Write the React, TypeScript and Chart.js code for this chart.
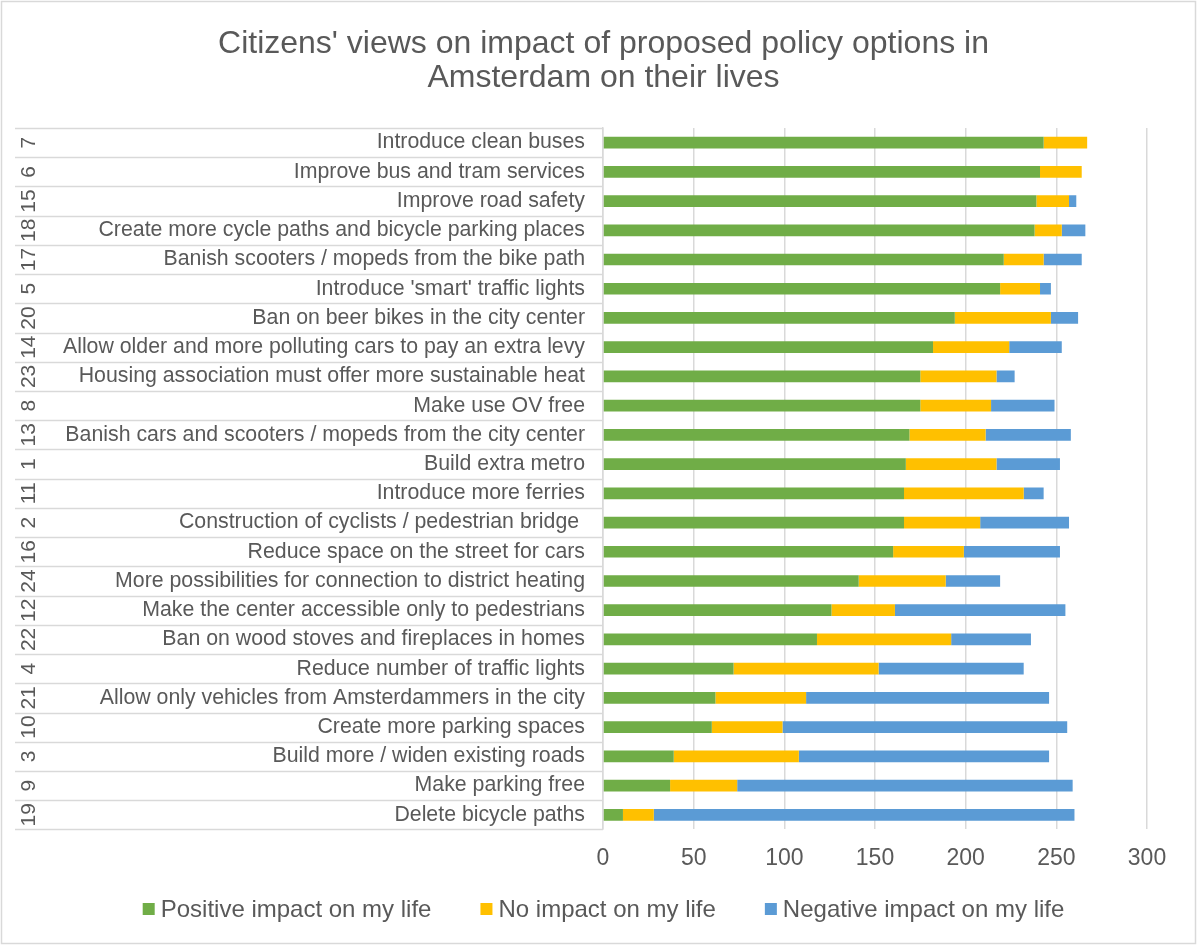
import React, { useEffect, useRef } from "react";
import { Chart, registerables } from "chart.js";

Chart.register(...registerables);

const FONT = "'Liberation Sans', Arial, Helvetica, sans-serif";
const TEXT_COLOR = "#595959";
const GRID_COLOR = "#d9d9d9";

const TITLE_LINES = [
  "Citizens' views on impact of proposed policy options in",
  "Amsterdam on their lives",
];

const CATEGORY_IDS = [
  "7", "6", "15", "18", "17", "5", "20", "14", "23", "8", "13", "1",
  "11", "2", "16", "24", "12", "22", "4", "21", "10", "3", "9", "19",
];

const CATEGORY_LABELS = [
  "Introduce clean buses",
  "Improve bus and tram services",
  "Improve road safety",
  "Create more cycle paths and bicycle parking places",
  "Banish scooters / mopeds from the bike path",
  "Introduce 'smart' traffic lights",
  "Ban on beer bikes in the city center",
  "Allow older and more polluting cars to pay an extra levy",
  "Housing association must offer more sustainable heat",
  "Make use OV free",
  "Banish cars and scooters / mopeds from the city center",
  "Build extra metro",
  "Introduce more ferries",
  "Construction of cyclists / pedestrian bridge ",
  "Reduce space on the street for cars",
  "More possibilities for connection to district heating",
  "Make the center accessible only to pedestrians",
  "Ban on wood stoves and fireplaces in homes",
  "Reduce number of traffic lights",
  "Allow only vehicles from Amsterdammers in the city",
  "Create more parking spaces",
  "Build more / widen existing roads",
  "Make parking free",
  "Delete bicycle paths",
];

const SERIES_NAMES = [
  "Positive impact on my life",
  "No impact on my life",
  "Negative impact on my life",
];

const POSITIVE = [243, 241, 239, 238, 221, 219, 194, 182, 175, 175, 169, 167, 166, 166, 160, 141, 126, 118, 72, 62, 60, 39, 37, 11];
const NO_IMPACT = [24, 23, 18, 15, 22, 22, 53, 42, 42, 39, 42, 50, 66, 42, 39, 48, 35, 74, 80, 50, 39, 69, 37, 17];
const NEGATIVE = [0, 0, 4, 13, 21, 6, 15, 29, 10, 35, 47, 35, 11, 49, 53, 30, 94, 44, 80, 134, 157, 138, 185, 232];

const SERIES_COLORS = ["#70ad47", "#ffc000", "#5b9bd5"];

const X_MIN = 0;
const X_MAX = 300;
const X_STEP = 50;

export default function App() {
  const ref = useRef<HTMLCanvasElement>(null);

  useEffect(() => {
    const canvas = ref.current;
    if (!canvas) return;

    const framePlugin = {
      id: "framePlugin",
      afterDraw(chart: any) {
        const ctx = chart.ctx as CanvasRenderingContext2D;
        const area = chart.chartArea;
        const n = CATEGORY_IDS.length;
        const step = (area.bottom - area.top) / n;

        ctx.save();
        // outer chart border
        ctx.strokeStyle = GRID_COLOR;
        ctx.lineWidth = 1.5;
        ctx.strokeRect(1.5, 1.5, chart.width - 3, chart.height - 3);

        // category separators
        ctx.strokeStyle = GRID_COLOR;
        ctx.lineWidth = 1.5;
        for (let i = 0; i <= n; i++) {
          const y = Math.round(area.top + i * step) + 0.5;
          ctx.beginPath();
          ctx.moveTo(15, y);
          ctx.lineTo(area.left, y);
          ctx.stroke();
        }

        // rotated outer-level labels (ids)
        ctx.fillStyle = TEXT_COLOR;
        ctx.font = `21px ${FONT}`;
        ctx.textAlign = "center";
        ctx.textBaseline = "middle";
        const yScale = chart.scales.y;
        CATEGORY_IDS.forEach((id, i) => {
          const yc = yScale.getPixelForValue(i);
          ctx.save();
          ctx.translate(29, yc);
          ctx.rotate(-Math.PI / 2);
          ctx.fillText(id, 0, 0);
          ctx.restore();
        });

        // legend
        ctx.font = `24px ${FONT}`;
        ctx.textAlign = "left";
        const box = 12;
        const gapBoxText = 6;
        const gapItems = 49;
        const items = chart.data.datasets.map((d: any) => ({
          label: d.label as string,
          color: d.backgroundColor as string,
          w: ctx.measureText(d.label).width,
        }));
        const total =
          items.reduce((s: number, it: any) => s + box + gapBoxText + it.w, 0) +
          gapItems * (items.length - 1);
        let x = 603.5 - total / 2;
        const yc = 909;
        items.forEach((it: any) => {
          ctx.fillStyle = it.color;
          ctx.fillRect(x, yc - box / 2, box, box);
          x += box + gapBoxText;
          ctx.fillStyle = TEXT_COLOR;
          ctx.fillText(it.label, x, yc + 1);
          x += it.w + gapItems;
        });
        ctx.restore();
      },
    };

    const seriesValues = [POSITIVE, NO_IMPACT, NEGATIVE];

    const chart = new Chart(canvas, {
      type: "bar",
      data: {
        labels: CATEGORY_LABELS,
        datasets: SERIES_NAMES.map((name, i) => ({
          label: name,
          data: seriesValues[i],
          backgroundColor: SERIES_COLORS[i],
          borderWidth: 0,
          barPercentage: 0.5,
          categoryPercentage: 0.8,
        })),
      },
      options: {
        indexAxis: "y",
        responsive: false,
        animation: false,
        devicePixelRatio: 1,
        layout: { padding: { left: 60, right: 50, top: 0, bottom: 58 } },
        plugins: {
          legend: { display: false },
          tooltip: { enabled: false },
          title: {
            display: true,
            text: TITLE_LINES,
            color: TEXT_COLOR,
            font: { family: FONT, size: 32, weight: "normal", lineHeight: 1.0625 },
            padding: { top: 27, bottom: 33 },
          },
        },
        scales: {
          x: {
            stacked: true,
            min: X_MIN,
            max: X_MAX,
            ticks: {
              stepSize: X_STEP,
              color: TEXT_COLOR,
              font: { family: FONT, size: 23 },
              padding: 15,
            },
            grid: { color: GRID_COLOR, lineWidth: 1.5, drawTicks: false },
            border: { display: false },
          },
          y: {
            stacked: true,
            ticks: {
              color: TEXT_COLOR,
              font: { family: FONT, size: 21.3 },
              padding: 18,
              autoSkip: false,
            },
            grid: { display: false, drawTicks: false },
            border: { display: true, color: GRID_COLOR, width: 1.5 },
            afterFit: (scale: any) => {
              scale.width = 543;
            },
          },
        },
      },
      plugins: [framePlugin],
    } as any);

    return () => chart.destroy();
  }, []);

  return (
    <div style={{ position: "absolute", left: 0, top: 0, width: 1197, height: 945, background: "#fff" }}>
      <canvas ref={ref} width={1197} height={945} style={{ display: "block" }} />
    </div>
  );
}
